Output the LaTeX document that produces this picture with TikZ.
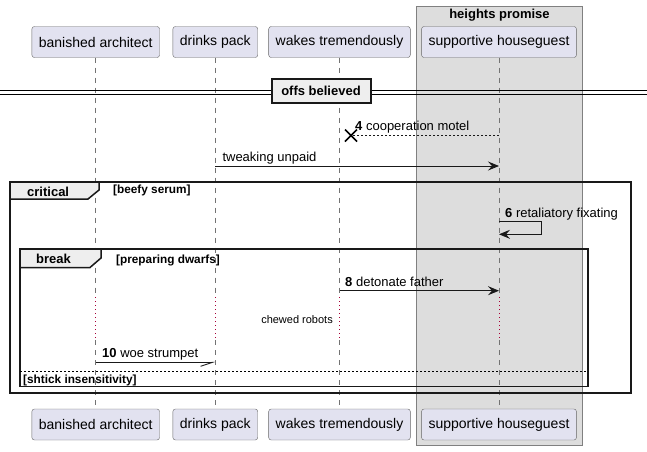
\documentclass[tikz,border=0pt]{standalone}
\usepackage{fontspec}
\setmainfont{Liberation Sans}
\usetikzlibrary{positioning,arrows.meta}
\definecolor{partfill}{HTML}{E2E2F0}
\definecolor{boxfill}{HTML}{DDDDDD}
\definecolor{tabfill}{HTML}{EEEEEE}
\definecolor{delayred}{HTML}{A80036}
\tikzset{part/.style={draw=black!60,fill=partfill,rounded corners=2.5pt,minimum height=31pt,inner xsep=7pt,font=\fontsize{14}{16}\selectfont},
lifeline/.style={draw=black!55,line width=0.5pt,dash pattern=on 5pt off 5pt},
delayline/.style={draw=delayred,line width=0.6pt,dash pattern=on 1pt off 3pt},
msg/.style={draw=black!90,line width=0.9pt,-{Stealth[length=11pt,width=9pt,inset=4pt]}},
lost/.style={draw=black!90,line width=0.9pt,dash pattern=on 2pt off 2pt},
halfmsg/.style={draw=black!90,line width=0.9pt,-{Straight Barb[harpoon,swap,length=12pt,width=8pt]}},
msglabel/.style={inner sep=0pt,anchor=base west,font=\fontsize{13}{15}\selectfont},
frame/.style={draw=black!90,line width=1.5pt},
tab/.style={draw=black!90,line width=1.5pt,fill=tabfill},
tabtext/.style={inner sep=0pt,anchor=base west,font=\bfseries\fontsize{13}{15}\selectfont},
guard/.style={inner sep=0pt,anchor=base west,font=\bfseries\fontsize{11.8}{13}\selectfont}}

\begin{document}
\begin{tikzpicture}[x=1pt,y=-1pt]
\useasboundingbox (0,0) rectangle (647,451);
\filldraw[fill=boxfill,draw=black!50,line width=1pt] (416.5,6.5) rectangle (582.5,445);
\node[inner sep=0pt,anchor=base,font=\bfseries\fontsize{13}{15}\selectfont] (grp) at (499.5,18.5) {heights promise};

\node[part] (arch) at (95.7,42) {banished architect};
\node[part] (drinks) at (215.3,42) {drinks pack};
\node[part] (wakes) at (339.5,42) {wakes tremendously};
\node[part] (guest) at (499,42) {supportive houseguest};
\node[part] (arch-b) at (95.7,424.5) {banished architect};
\node[part] (drinks-b) at (215.3,424.5) {drinks pack};
\node[part] (wakes-b) at (339.5,424.5) {wakes tremendously};
\node[part] (guest-b) at (499,424.5) {supportive houseguest};

\foreach \p in {arch,drinks,wakes,guest}{
  \draw[lifeline] (\p.south) -- (\p |- 0,297);
  \draw[delayline] (\p |- 0,297) -- (\p |- 0,340);
  \draw[lifeline] (\p |- 0,340) -- (\p-b.north);
}

\draw[line width=1pt] (0,90.5) -- (647,90.5) (0,94) -- (647,94);
\node[draw=black!90,line width=2pt,fill=tabfill,minimum width=99pt,minimum height=24pt,font=\bfseries\fontsize{13}{15}\selectfont] (sep) at (321,91) {offs believed};

\coordinate (m4a) at (guest |- 0,135.5);
\coordinate (m4b) at (351,135.5);
\draw[lost] (m4a) -- (m4b);
\draw[line width=1.5pt] ([shift={(-6,-6)}]m4b) -- ([shift={(6,6)}]m4b) ([shift={(-6,6)}]m4b) -- ([shift={(6,-6)}]m4b);
\node[msglabel] (m4) at (355,130) {\textbf{4} cooperation motel};

\coordinate (m5a) at (drinks |- 0,166);
\coordinate (m5b) at (guest |- 0,166);
\draw[msg] (m5a) -- (m5b);
\node[msglabel] (m5) at ([shift={(7,-5)}]m5a) {tweaking unpaid};

\draw[frame] (10,182) rectangle (631,393);
\filldraw[tab] (10,182) -- (99,182) -- (99,190) -- (88,199) -- (10,199) -- cycle;
\node[tabtext] (crit) at (27,196.5) {critical};
\node[guard] (crit-g) at (113,193) {[beefy serum]};

\coordinate (m6a) at (guest |- 0,221.7);
\coordinate (m6b) at (guest |- 0,234.3);
\draw[msg] (m6a) -- ++(42.5,0) |- (m6b);
\node[msglabel] (m6) at (505,217) {\textbf{6} retaliatory fixating};

\draw[frame] (20,249) rectangle (588,386.7);
\filldraw[tab] (20,249) -- (101,249) -- (101,258) -- (90,267.5) -- (20,267.5) -- cycle;
\node[tabtext] (brk) at (36,263) {break};
\node[guard] (brk-g) at (116,263) {[preparing dwarfs]};

\coordinate (m8a) at (wakes |- 0,290.7);
\coordinate (m8b) at (guest |- 0,290.7);
\draw[msg] (m8a) -- (m8b);
\node[msglabel] (m8) at (345,286) {\textbf{8} detonate father};

\node[inner sep=0pt,anchor=base east,font=\fontsize{11}{13}\selectfont] (delay) at (333,323.5) {chewed robots};

\coordinate (m10a) at (arch |- 0,362.3);
\coordinate (m10b) at (drinks |- 0,362.3);
\draw[halfmsg] (m10a) -- (m10b);
\node[msglabel] (m10) at (102,357.5) {\textbf{10} woe strumpet};

\draw[line width=1pt,dash pattern=on 2pt off 2pt] (20,371) -- (588,371);
\node[guard] (brk-e) at (23,383) {[shtick insensitivity]};
\end{tikzpicture}
\end{document}
